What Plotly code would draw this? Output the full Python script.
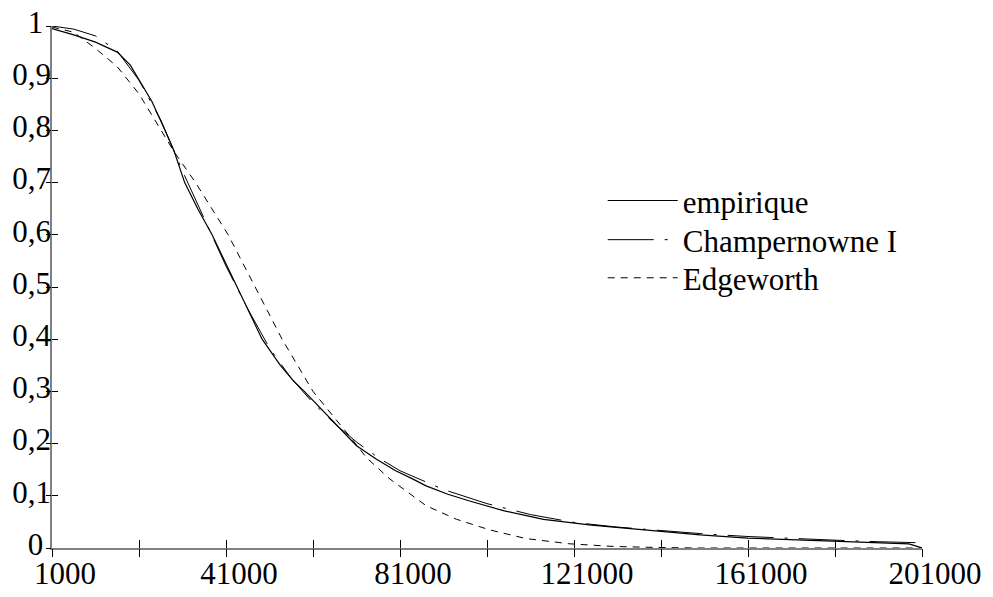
import plotly.graph_objects as go

# ---- data ----
emp_x = [1000, 6000, 11000, 16000, 19000, 21000, 24000, 27000, 29000, 31500, 34500,
         37800, 43500, 49300, 53500, 56500, 59000, 63000, 67000, 71000, 75600, 80000,
         84000, 87000, 92000, 97000, 105000, 114000, 125000, 137000, 150000, 161000,
         171000, 181000, 191000, 198000, 201000]
emp_y = [0.995, 0.983, 0.969, 0.950, 0.925, 0.898, 0.855, 0.800, 0.762, 0.700, 0.650,
         0.600, 0.500, 0.400, 0.350, 0.320, 0.300, 0.265, 0.230, 0.196, 0.170, 0.148,
         0.132, 0.119, 0.103, 0.090, 0.071, 0.055, 0.044, 0.0345, 0.025, 0.019,
         0.016, 0.0134, 0.0105, 0.008, 0.0]

champ_x = [1000, 6000, 11000, 16000, 21000, 26000, 31000, 36000, 41000, 46000, 51000,
           56000, 61000, 66000, 71000, 76000, 81000, 91000, 101000, 111000, 121000,
           131000, 141000, 151000, 161000, 171000, 181000, 191000, 201000]
champ_y = [1.0, 0.994, 0.981, 0.952, 0.896, 0.820, 0.722, 0.630, 0.540, 0.458, 0.383,
           0.325, 0.278, 0.238, 0.203, 0.173, 0.148, 0.112, 0.085, 0.064, 0.049,
           0.040, 0.033, 0.027, 0.022, 0.018, 0.015, 0.012, 0.010]

edge_x = [1000, 6000, 11000, 16000, 21000, 26000, 29000, 34000, 41500, 47700, 53900,
          61000, 65000, 70000, 73300, 78700, 87000, 94000, 101700, 110000, 120000,
          130000, 140000, 150000, 201000]
edge_y = [0.998, 0.988, 0.957, 0.922, 0.870, 0.800, 0.760, 0.700, 0.600, 0.500, 0.400,
          0.300, 0.260, 0.208, 0.173, 0.132, 0.081, 0.055, 0.0345, 0.018, 0.008,
          0.003, 0.001, 0.0, 0.0]

series_names = ["empirique", "Champernowne I", "Edgeworth"]

x_tick_vals = [1000, 21000, 41000, 61000, 81000, 101000, 121000, 141000, 161000, 181000, 201000]
x_tick_text = ["1000", "", "41000", "", "81000", "", "121000", "", "161000", "", "201000"]
y_tick_vals = [0, 0.1, 0.2, 0.3, 0.4, 0.5, 0.6, 0.7, 0.8, 0.9, 1.0]
y_tick_text = ["0\u00a0", "0,1", "0,2", "0,3", "0,4", "0,5", "0,6", "0,7", "0,8", "0,9", "1\u00a0"]

FONT = "Liberation Serif, Times New Roman, serif"
TXT = dict(family=FONT, size=31, color="black")

fig = go.Figure()
fig.add_trace(go.Scatter(x=emp_x, y=emp_y, mode="lines", name=series_names[0],
                         line=dict(color="black", width=1.2), legend="legend"))
fig.add_trace(go.Scatter(x=champ_x, y=champ_y, mode="lines", name=series_names[1],
                         line=dict(color="black", width=1, dash="46px,11px,3px,11px"),
                         legend="legend2"))
fig.add_trace(go.Scatter(x=edge_x, y=edge_y, mode="lines", name=series_names[2],
                         line=dict(color="black", width=1, dash="7px,6px"),
                         legend="legend3"))
# helper trace so the overlay axes (outer half of the crossing ticks) are drawn
fig.add_trace(go.Scatter(x=[None], y=[None], xaxis="x2", yaxis="y2",
                         showlegend=False, hoverinfo="skip"))

leg = dict(x=0.633, xanchor="left", yanchor="middle", bgcolor="rgba(0,0,0,0)",
           borderwidth=0, itemwidth=70, font=TXT)

# the page body has an 8px margin, so the figure is 8px smaller and margins shifted
fig.update_layout(
    width=985, height=589,
    margin=dict(l=44, r=71, t=18, b=49, autoexpand=False),
    paper_bgcolor="white", plot_bgcolor="white",
    font=TXT,
    showlegend=True,
    legend=dict(leg, y=0.665),
    legend2=dict(leg, y=0.590),
    legend3=dict(leg, y=0.517),
    xaxis=dict(range=[1000, 201000], showgrid=False, zeroline=False, automargin=False,
               showline=True, linecolor="#808080", linewidth=1.5,
               ticks="inside", ticklen=8, tickcolor="black", tickwidth=1,
               tickmode="array", tickvals=x_tick_vals, ticktext=x_tick_text,
               ticklabelshift=13, ticklabelstandoff=-3, tickfont=TXT),
    yaxis=dict(range=[0, 1], showgrid=False, zeroline=False, automargin=False,
               showline=True, linecolor="#808080", linewidth=1.5,
               ticks="inside", ticklen=6, tickcolor="black", tickwidth=1,
               tickmode="array", tickvals=y_tick_vals, ticktext=y_tick_text,
               ticklabelshift=-4, ticklabelstandoff=-7, ticklabeloverflow="allow",
               tickfont=TXT),
    xaxis2=dict(range=[1000, 201000], overlaying="x", side="bottom", showgrid=False,
                zeroline=False, showline=False, ticks="outside", ticklen=8, automargin=False,
                tickcolor="black", tickwidth=1, tickmode="array", tickvals=x_tick_vals,
                showticklabels=False),
    yaxis2=dict(range=[0, 1], overlaying="y", side="left", showgrid=False,
                zeroline=False, showline=False, ticks="outside", ticklen=5, automargin=False,
                tickcolor="black", tickwidth=1, tickmode="array", tickvals=y_tick_vals,
                showticklabels=False),
)

fig.write_html("out.html")
